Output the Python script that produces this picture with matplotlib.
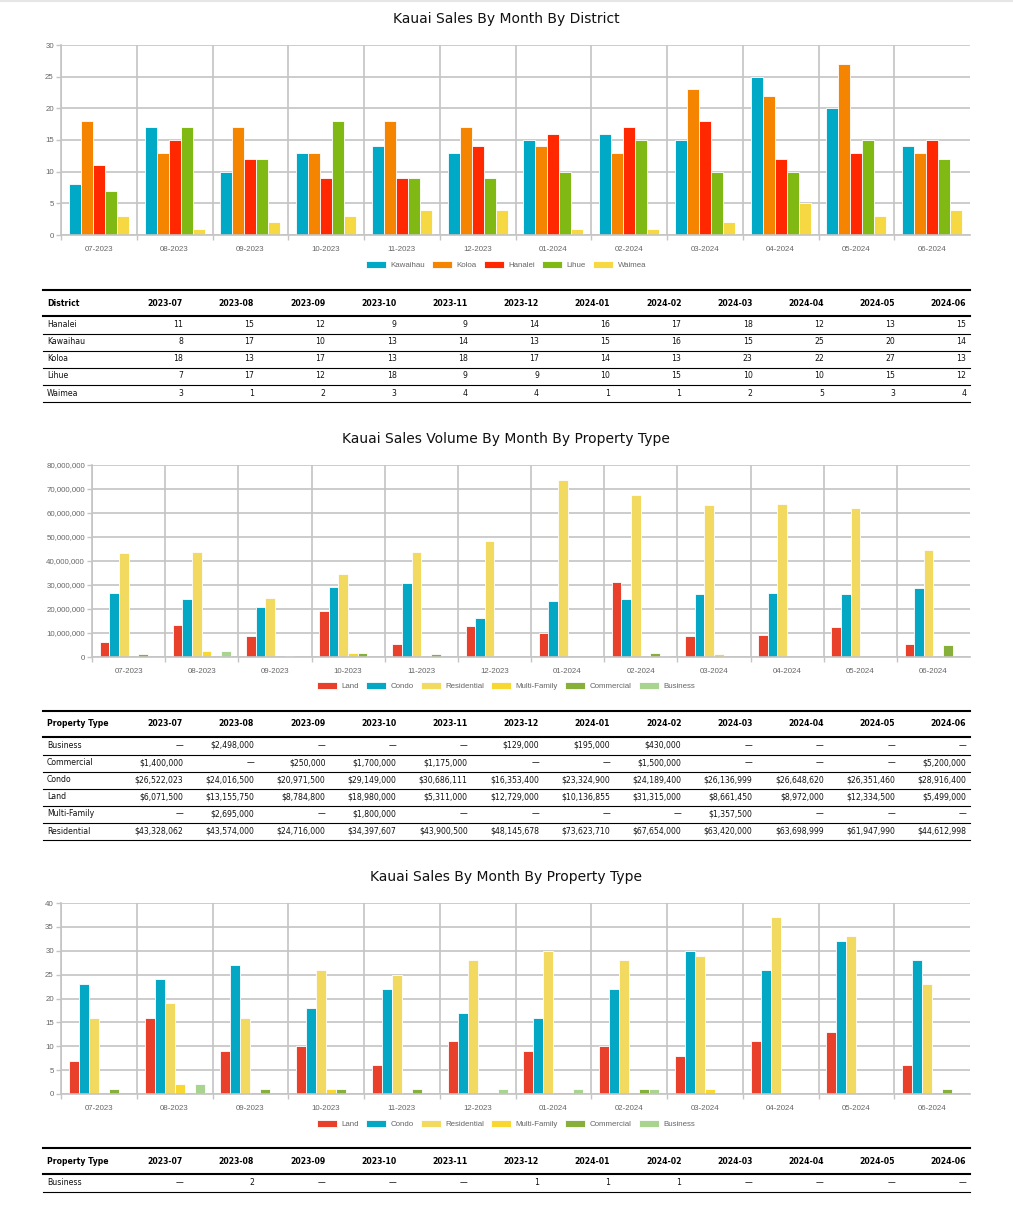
import numpy as np
import matplotlib
matplotlib.use('Agg')
import matplotlib.pyplot as plt
from matplotlib.ticker import FuncFormatter, MultipleLocator

W, H = 1013, 1208

months = ['07-2023', '08-2023', '09-2023', '10-2023', '11-2023', '12-2023',
          '01-2024', '02-2024', '03-2024', '04-2024', '05-2024', '06-2024']
table_months = ['2023-07', '2023-08', '2023-09', '2023-10', '2023-11', '2023-12',
                '2024-01', '2024-02', '2024-03', '2024-04', '2024-05', '2024-06']

# sales count by district
districts = ['Kawaihau', 'Koloa', 'Hanalei', 'Lihue', 'Waimea']
kawaihau = [8, 17, 10, 13, 14, 13, 15, 16, 15, 25, 20, 14]
koloa = [18, 13, 17, 13, 18, 17, 14, 13, 23, 22, 27, 13]
hanalei = [11, 15, 12, 9, 9, 14, 16, 17, 18, 12, 13, 15]
lihue = [7, 17, 12, 18, 9, 9, 10, 15, 10, 10, 15, 12]
waimea = [3, 1, 2, 3, 4, 4, 1, 1, 2, 5, 3, 4]

# sales volume by property type (0 = no sales)
prop_types = ['Land', 'Condo', 'Residential', 'Multi-Family', 'Commercial', 'Business']
land_vol = [6071500, 13155750, 8784800, 18980000, 5311000, 12729000,
            10136855, 31315000, 8661450, 8972000, 12334500, 5499000]
condo_vol = [26522023, 24016500, 20971500, 29149000, 30686111, 16353400,
             23324900, 24189400, 26136999, 26648620, 26351460, 28916400]
resid_vol = [43328062, 43574000, 24716000, 34397607, 43900500, 48145678,
             73623710, 67654000, 63420000, 63698999, 61947990, 44612998]
multi_vol = [0, 2695000, 0, 1800000, 0, 0, 0, 0, 1357500, 0, 0, 0]
comm_vol = [1400000, 0, 250000, 1700000, 1175000, 0, 0, 1500000, 0, 0, 0, 5200000]
bus_vol = [0, 2498000, 0, 0, 0, 129000, 195000, 430000, 0, 0, 0, 0]

# sales count by property type
land_n = [7, 16, 9, 10, 6, 11, 9, 10, 8, 11, 13, 6]
condo_n = [23, 24, 27, 18, 22, 17, 16, 22, 30, 26, 32, 28]
resid_n = [16, 19, 16, 26, 25, 28, 30, 28, 29, 37, 33, 23]
multi_n = [0, 2, 0, 1, 0, 0, 0, 0, 1, 0, 0, 0]
comm_n = [1, 0, 1, 1, 1, 0, 0, 1, 0, 0, 0, 1]
bus_n = [0, 2, 0, 0, 0, 1, 1, 1, 0, 0, 0, 0]

district_colors = ['#00aac6', '#f58400', '#ff2800', '#80b814', '#f6d843']
prop_colors = ['#e8402a', '#04a8c4', '#f2d960', '#f7d730', '#86b03a', '#a8d490']

GRID = '#c4c4c4'
TICK_TXT = '#666666'
TICK_FONT = dict(family='Liberation Sans', size=5.7)

fig = plt.figure(figsize=(W / 100, H / 100), dpi=100)
fig.patch.set_facecolor('white')


def px_rect(l, t, r, b):
    return [l / W, 1 - b / H, (r - l) / W, (b - t) / H]


def bar_chart(box, title, title_y, series, labels, colors, ymax, ystep, fmt, legend_y):
    ax = fig.add_axes(px_rect(*box))
    n = len(series)
    w = 0.79 / n
    x = np.arange(len(months))
    for i, (vals, lab, col) in enumerate(zip(series, labels, colors)):
        ax.bar(x + (i - (n - 1) / 2) * w, vals, w, color=col,
               edgecolor='white', linewidth=0.6, label=lab)
    ax.set_xlim(-0.5, len(months) - 0.5)
    ax.set_ylim(0, ymax)
    ax.yaxis.set_major_locator(MultipleLocator(ystep))
    ax.yaxis.set_major_formatter(FuncFormatter(fmt))
    ax.set_xticks(x)
    ax.set_xticklabels(months)
    ax.set_xticks(np.arange(-0.5, len(months) - 1, 1), minor=True)
    ax.set_axisbelow(True)
    ax.grid(axis='y', which='major', color=GRID, linewidth=1.2)
    ax.grid(axis='x', which='minor', color=GRID, linewidth=1.2)
    ax.tick_params(axis='x', which='major', length=0, pad=8)
    ax.tick_params(axis='x', which='minor', length=3.6, width=1.0, color=GRID)
    ax.tick_params(axis='y', length=3.6, width=1.0, color=GRID, pad=1.5)
    for lab in ax.get_xticklabels() + ax.get_yticklabels():
        lab.set_fontfamily(TICK_FONT['family'])
        lab.set_fontsize(TICK_FONT['size'])
        lab.set_color(TICK_TXT)
    for s in ['top', 'right']:
        ax.spines[s].set_visible(False)
    for s in ['left', 'bottom']:
        ax.spines[s].set_color(GRID)
        ax.spines[s].set_linewidth(1.2)
    fig.text(506 / W, 1 - title_y / H, title, ha='center', va='center',
             fontsize=10, family='DejaVu Sans', color='#111111')
    handles, labs = ax.get_legend_handles_labels()
    fig.legend(handles, labs, loc='center', bbox_to_anchor=(506 / W, 1 - legend_y / H),
               ncol=n, frameon=False, prop=TICK_FONT, labelcolor=TICK_TXT,
               handlelength=2.5, handleheight=1.05, handletextpad=0.6,
               columnspacing=0.9, borderaxespad=0, borderpad=0)
    return ax


int_fmt = lambda v, p: f'{int(v)}'
comma_fmt = lambda v, p: f'{int(v):,}'

bar_chart((61, 45, 970, 235), 'Kauai Sales By Month By District', 19,
          [kawaihau, koloa, hanalei, lihue, waimea], districts, district_colors,
          30, 5, int_fmt, 265)
bar_chart((92, 465, 970, 657), 'Kauai Sales Volume By Month By Property Type', 439,
          [land_vol, condo_vol, resid_vol, multi_vol, comm_vol, bus_vol], prop_types,
          prop_colors, 80000000, 10000000, comma_fmt, 686)
bar_chart((61, 903, 970, 1094), 'Kauai Sales By Month By Property Type', 877,
          [land_n, condo_n, resid_n, multi_n, comm_n, bus_n], prop_types,
          prop_colors, 40, 5, int_fmt, 1124)

# tables drawn on a full-figure overlay in pixel coordinates
ov = fig.add_axes([0, 0, 1, 1])
ov.set_xlim(0, W)
ov.set_ylim(H, 0)
ov.axis('off')

TL, TR = 43, 970
col_right = [183 + 71.2 * k for k in range(12)]


def draw_table(top, first_col, rows, fmt):
    ov.plot([TL, TR], [top, top], color='black', lw=1.5)
    ov.text(47, top + 13, first_col, fontsize=5.6, fontweight='bold', va='center', ha='left')
    for k, m in enumerate(table_months):
        ov.text(col_right[k], top + 13, m, fontsize=5.6, fontweight='bold', va='center', ha='right')
    line = top + 26
    ov.plot([TL, TR], [line, line], color='black', lw=1.5)
    for r, (name, vals) in enumerate(rows):
        y = line + 8.4 + r * 17.15
        ov.text(47, y, name, fontsize=5.6, va='center', ha='left', color='#111111')
        for k, v in enumerate(vals):
            ov.text(col_right[k], y, fmt(v), fontsize=5.6, va='center', ha='right', color='#111111')
        sep = line + 17.5 + r * 17.15
        ov.plot([TL, TR], [sep, sep], color='black', lw=0.8)


dash = '\u2014'
draw_table(290, 'District',
           sorted(zip(districts, [kawaihau, koloa, hanalei, lihue, waimea])),
           lambda v: f'{v}')
draw_table(711, 'Property Type',
           sorted(zip(prop_types, [land_vol, condo_vol, resid_vol, multi_vol, comm_vol, bus_vol])),
           lambda v: f'${v:,}' if v else dash)
# only the first row of the last table is inside the page
count_rows = sorted(zip(prop_types, [land_n, condo_n, resid_n, multi_n, comm_n, bus_n]))
draw_table(1148, 'Property Type', count_rows[:1], lambda v: f'{v}' if v else dash)

# faint page shadow at the very top
ov.plot([0, W], [0.8, 0.8], color='#e6e6e6', lw=1.5)

fig.savefig('out.png', dpi=100, facecolor='white')
